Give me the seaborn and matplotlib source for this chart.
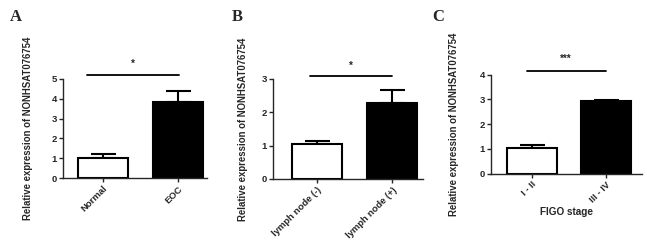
import numpy as np
import pandas as pd
import seaborn as sns
import matplotlib
matplotlib.use('Agg')
import matplotlib.pyplot as plt

# panel A
groups_a = ['Normal', 'EOC']
means_a = [1.02, 3.84]
sem_a = [0.18, 0.56]
# panel B
groups_b = ['lymph node (-)', 'lymph node (+)']
means_b = [1.04, 2.28]
sem_b = [0.09, 0.38]
# panel C
groups_c = ['I - II', 'III - IV']
means_c = [1.05, 2.93]
sem_c = [0.09, 0.06]

ylabel = 'Relative expression of NONHSAT076754'

sns.set_style('ticks')
plt.rcParams['font.family'] = ['Liberation Sans', 'DejaVu Sans']
plt.rcParams['font.weight'] = 'bold'

fig = plt.figure(figsize=(6.47, 2.41), dpi=100)

panels = [
    dict(letter='A', groups=groups_a, means=means_a, sem=sem_a, ymax=5,
         rect=[0.0974, 0.2614, 0.2226, 0.4108], xlim=(-0.53, 1.39),
         sig=(-0.21, 1.01, 5.2), star='*', star_y=5.75, ylab_x=-0.21,
         letter_x=0.015, xlabel=None),
    dict(letter='B', groups=groups_b, means=means_b, sem=sem_b, ymax=3,
         rect=[0.422, 0.2573, 0.2318, 0.415], xlim=(-0.587, 1.41),
         sig=(-0.09, 1.0, 3.1), star='*', star_y=3.38, ylab_x=-0.17,
         letter_x=0.358, xlabel=None),
    dict(letter='C', groups=groups_c, means=means_c, sem=sem_c, ymax=4,
         rect=[0.7589, 0.2793, 0.2334, 0.411], xlim=(-0.55, 1.48),
         sig=(-0.07, 0.99, 4.15), star='***', star_y=4.65, ylab_x=-0.209,
         letter_x=0.668, xlabel='FIGO stage'),
]

for p in panels:
    ax = fig.add_axes(p['rect'])
    df = pd.DataFrame({'group': p['groups'], 'value': p['means']})
    sns.barplot(data=df, x='group', y='value', hue='group',
                palette=['white', 'black'], edgecolor='black', linewidth=1.5,
                width=0.67, errorbar=None, legend=False, ax=ax)
    xs = np.arange(len(p['groups']))
    ax.errorbar(xs, p['means'], yerr=[np.zeros(len(xs)), p['sem']],
                fmt='none', ecolor='black', elinewidth=1.5, capsize=9,
                capthick=1.5, zorder=0, clip_on=False)
    ax.set_ylim(0, p['ymax'])
    ax.set_xlim(*p['xlim'])
    ax.set_yticks(range(0, p['ymax'] + 1))
    x0, x1, ys = p['sig']
    ax.plot([x0, x1], [ys, ys], color='black', lw=1.3, clip_on=False)
    ax.text((x0 + x1) / 2, p['star_y'], p['star'], ha='center', va='center',
            fontsize=7)
    sns.despine(ax=ax)
    for s in ['left', 'bottom']:
        ax.spines[s].set_linewidth(1.0)
    ax.tick_params(axis='both', length=3, width=1.0, labelsize=6.8, pad=1.5)
    ax.set_xticks(xs)
    ax.set_xticklabels(p['groups'], rotation=45, ha='right',
                       rotation_mode='anchor', fontweight='bold')
    ax.set_ylabel(ylabel, fontsize=6.9, fontweight='bold')
    ax.yaxis.set_label_coords(p['ylab_x'], 0.5)
    if p['xlabel']:
        ax.set_xlabel(p['xlabel'], fontsize=7.2, fontweight='bold', labelpad=2)
    else:
        ax.set_xlabel('')
    fig.text(p['letter_x'], 0.93, p['letter'], fontsize=12, fontweight='bold',
             family=['Liberation Serif', 'DejaVu Serif'], va='center')

fig.savefig('out.png', dpi=100)
